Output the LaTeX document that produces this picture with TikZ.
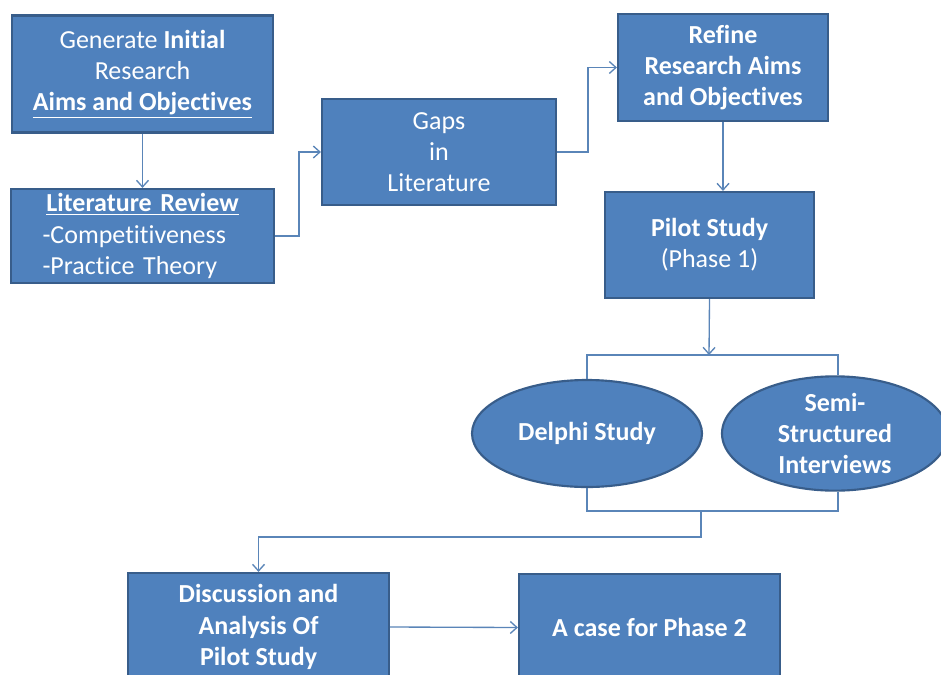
\documentclass[tikz,border=0pt]{standalone}
\usepackage{fontspec}
\setmainfont{Carlito}[Ligatures={NoCommon,NoRequired,NoContextual,NoRare}]
\usetikzlibrary{arrows.meta,shapes.geometric}
\definecolor{boxfill}{HTML}{4F81BD}
\definecolor{boxborder}{HTML}{385D8A}
\definecolor{conncol}{HTML}{5A85B8}
\tikzset{
  stepbox/.style={draw=boxborder, fill=boxfill, line width=1.6pt, text=white,
    align=center, inner sep=0pt, font=\fontsize{19.5pt}{23.4pt}\selectfont},
  ovalbox/.style={stepbox, ellipse},
  conn/.style={draw=conncol, line width=1pt},
  arr/.style={conn, -{Straight Barb[length=5pt,width=9pt]}}
}
\begin{document}
\begin{tikzpicture}[x=0.75pt,y=-0.75pt]
\useasboundingbox (0,0) rectangle (941,674);
\clip (0,0) rectangle (941,674);
\fill[white] (0,0) rectangle (941,674);

\node[stepbox, minimum width=261*0.75pt, minimum height=117*0.75pt] (gen) at (142.5,74)
  {Generate \textbf{Initial}\\ Research\\ \textbf{\underline{Aims and Objectives}}};
\node[stepbox, minimum width=263*0.75pt, minimum height=94*0.75pt, align=left, text width=150pt] (lit) at (142.5,236)
  {\makebox[\hsize][c]{\textbf{\underline{Literature Review}}}\\ -Competitiveness\\ -Practice Theory};
\node[stepbox, minimum width=234*0.75pt, minimum height=106*0.75pt] (gaps) at (439,152)
  {Gaps\\ in\\ Literature};
\node[stepbox, minimum width=210*0.75pt, minimum height=107*0.75pt, font=\fontsize{19.5pt}{23.4pt}\selectfont\bfseries] (ref) at (723,67.5)
  {Refine\\ Research Aims\\ and Objectives};
\node[stepbox, minimum width=209*0.75pt, minimum height=106*0.75pt] (pil) at (709.5,245)
  {\textbf{Pilot Study}\\ (Phase 1)};
\node[ovalbox, minimum width=230*0.75pt, minimum height=107*0.75pt, font=\fontsize{19.5pt}{23.4pt}\selectfont\bfseries] (del) at (587,433.5)
  {Delphi Study};
\node[ovalbox, minimum width=226*0.75pt, minimum height=107*0.75pt, font=\fontsize{19.5pt}{23.4pt}\selectfont\bfseries] (semi) at (835,433.5)
  {Semi-\\ Structured\\ Interviews};
\node[stepbox, minimum width=261*0.75pt, minimum height=108*0.75pt, font=\fontsize{19.5pt}{23.4pt}\selectfont\bfseries] (disc) at (258.5,627)
  {Discussion and\\ Analysis Of\\ Pilot Study};
\node[stepbox, minimum width=261*0.75pt, minimum height=107*0.75pt, font=\fontsize{19.5pt}{23.4pt}\selectfont\bfseries] (case) at (649.5,627.5)
  {A case for Phase 2};

\coordinate (split) at (709,355);
\coordinate (tl) at (587,355);
\coordinate (tr) at (838,355);
\coordinate (bl) at (587,511);
\coordinate (br) at (838,511);
\coordinate (join) at (701,511);
\coordinate (turn) at (701,537);

\draw[arr] (gen.south) -- (lit.north);
\draw[arr] (lit.east) -- ++(24,0) |- (gaps.west);
\draw[arr] (gaps.east) -- ++(31,0) |- (ref.west);
\draw[arr] (ref.south) -- (ref.south |- pil.north);
\draw[arr] (pil.south) -- (split);
\draw[conn] (del.north) -- (tl) -- (tr) -- (tr |- semi.north);
\draw[conn] (del.south) -- (bl) -- (br) -- (br |- semi.south);
\draw[arr] (join) -- (turn) -| (disc.north);
\draw[arr] (disc.east) -- (case.west);
\end{tikzpicture}
\end{document}
